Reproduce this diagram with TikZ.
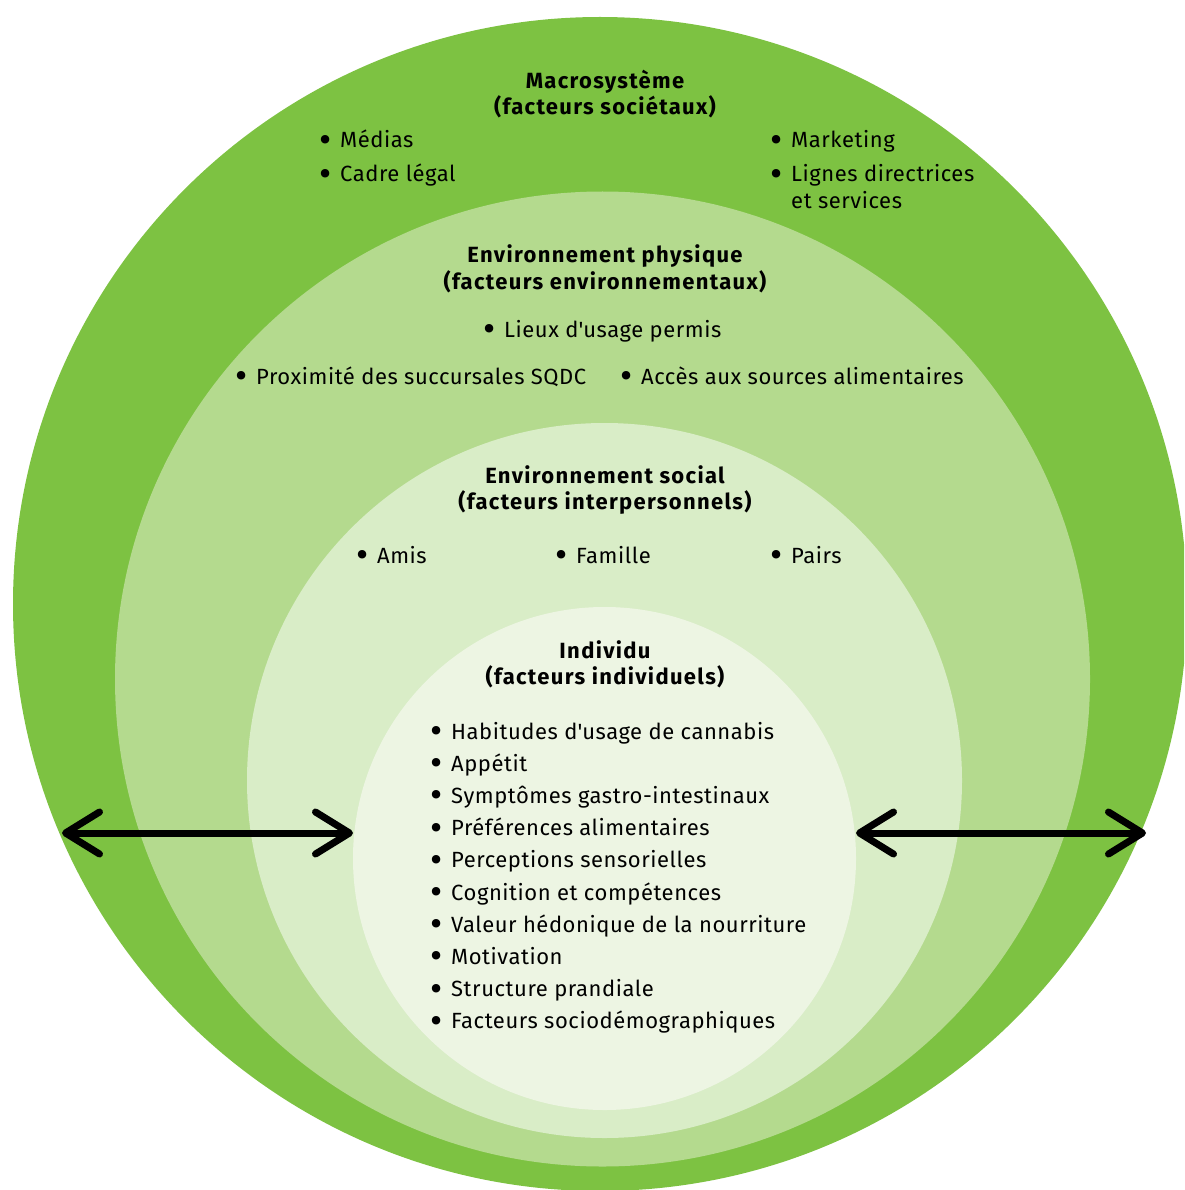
\documentclass[tikz,border=0pt]{standalone}
\usepackage{fontspec}
\setmainfont{Fira Sans}[LetterSpace=2.5]
\newfontfamily\headfont{Fira Sans}[LetterSpace=6]
\usetikzlibrary{arrows.meta}
\definecolor{gA}{HTML}{7DC242}
\definecolor{gB}{HTML}{B4DA8E}
\definecolor{gC}{HTML}{D9EDC7}
\definecolor{gD}{HTML}{EDF5E3}
\newcommand\bul{\makebox[0pt][c]{\smash{\raisebox{-0.2em}{\scalebox{1.7}{\textbullet}}}}\hspace{15pt}}
\newcommand\apos{\textquotesingle}
\begin{document}
\begin{tikzpicture}[x=1pt,y=-1pt,
  item/.style={anchor=base west, inner sep=0pt, font=\fontsize{22}{26}\selectfont},
  head/.style={anchor=base, inner sep=0pt, font=\fontsize{22}{26}\headfont\bfseries\selectfont},
  dblarrow/.style={line width=7pt, {Straight Barb[length=34pt, width=42pt, round]}-{Straight Barb[length=34pt, width=42pt, round]}}]
\useasboundingbox (0,0) rectangle (1184,1190);
\begin{scope}
\clip (0,0) rectangle (1184,1190);
\fill[gA] (600,604) circle (587);
\fill[gB] (602.5,679) circle (487.5);
\fill[gC] (604.5,780.5) circle (357.5);
\fill[gD] (604.5,858.5) circle (251.5);
\end{scope}
% Macrosysteme
\node[head] (h1a) at (605,89) {Macrosystème};
\node[head] (h1b) at (605,115) {(facteurs sociétaux)};
\node[item] (m1) at (325,148) {\bul Médias};
\node[item] (m2) at (325,182) {\bul Cadre légal};
\node[item] (m3) at (776,148) {\bul Marketing};
\node[item] (m4) at (776,182) {\bul Lignes directrices};
\node[item] (m5) at (791,209) {et services};
% Environnement physique
\node[head] (h2a) at (605,262) {Environnement physique};
\node[head] (h2b) at (605,289) {(facteurs environnementaux)};
\node[item] (p1) at (489,337) {\bul Lieux d\apos usage permis};
\node[item] (p2) at (241,384) {\bul Proximité des succursales SQDC};
\node[item] (p3) at (626,384) {\bul Accès aux sources alimentaires};
% Environnement social
\node[head] (h3a) at (605,483) {Environnement social};
\node[head] (h3b) at (605,509) {(facteurs interpersonnels)};
\node[item] (s1) at (362,563) {\bul Amis};
\node[item] (s2) at (561,563) {\bul Famille};
\node[item] (s3) at (776,563) {\bul Pairs};
% Individu
\node[head] (h4a) at (605,658) {Individu};
\node[head] (h4b) at (605,684) {(facteurs individuels)};
\foreach \t [count=\i from 0] in {Habitudes d\apos usage de cannabis, Appétit, Symptômes gastro-intestinaux, Préférences alimentaires, Perceptions sensorielles, Cognition et compétences, Valeur hédonique de la nourriture, Motivation, Structure prandiale, Facteurs sociodémographiques}
  \node[item] (i\i) at (436,739+32.2*\i) {\bul \t};
% arrows
\coordinate (L1) at (62,833);
\coordinate (L2) at (353,833);
\coordinate (R1) at (856,833);
\coordinate (R2) at (1146,833);
\draw[dblarrow] (L1) -- (L2);
\draw[dblarrow] (R1) -- (R2);
\end{tikzpicture}
\end{document}
